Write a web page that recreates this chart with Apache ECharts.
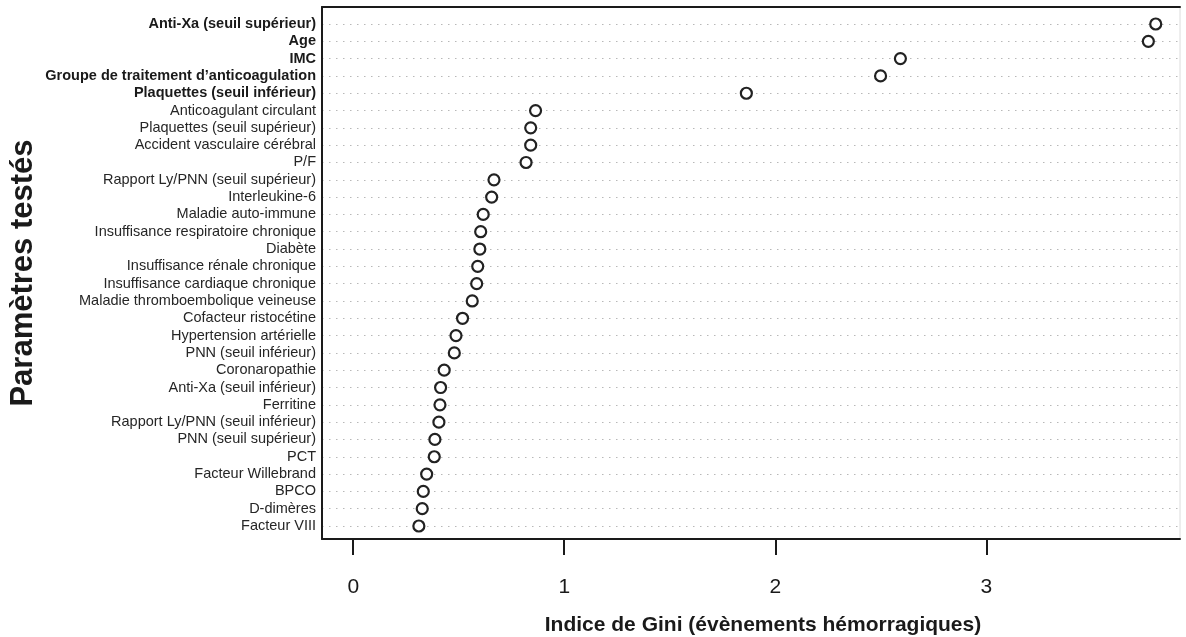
<!DOCTYPE html>
<html>
<head>
<meta charset="utf-8">
<script src="https://cdn.jsdelivr.net/npm/echarts@6/dist/echarts.min.js"></script>
<style>
  html, body { margin: 0; padding: 0; background: #fff; }
  #chart { width: 1186px; height: 637px; }
</style>
</head>
<body>
<div id="chart"></div>
<script>
// paramètres, du haut vers le bas
const PARAMS = [
    'Anti-Xa (seuil supérieur)', 'Age', 'IMC', 'Groupe de traitement d\u2019anticoagulation',
    'Plaquettes (seuil inférieur)', 'Anticoagulant circulant', 'Plaquettes (seuil supérieur)',
    'Accident vasculaire cérébral', 'P/F', 'Rapport Ly/PNN (seuil supérieur)', 'Interleukine-6',
    'Maladie auto-immune', 'Insuffisance respiratoire chronique', 'Diabète',
    'Insuffisance rénale chronique', 'Insuffisance cardiaque chronique',
    'Maladie thromboembolique veineuse', 'Cofacteur ristocétine', 'Hypertension artérielle',
    'PNN (seuil inférieur)', 'Coronaropathie', 'Anti-Xa (seuil inférieur)', 'Ferritine',
    'Rapport Ly/PNN (seuil inférieur)', 'PNN (seuil supérieur)', 'PCT', 'Facteur Willebrand',
    'BPCO', 'D-dimères', 'Facteur VIII'
];
const GINI = [
    3.803, 3.768, 2.593, 2.499, 1.863, 0.864, 0.841, 0.841, 0.819, 0.667, 0.656,
    0.616, 0.604, 0.600, 0.590, 0.585, 0.564, 0.518, 0.487, 0.479, 0.431, 0.414,
    0.411, 0.406, 0.387, 0.384, 0.348, 0.332, 0.327, 0.311
];
const BOLD_COUNT = 5;                 // les 5 premiers en gras
const X_TICKS = [0, 1, 2, 3];
const X_MIN = -0.148, X_MAX = 3.918;

const FONT = '"Liberation Sans", Arial, sans-serif';
const DARK = '#1a1a1a';

const chart = echarts.init(document.getElementById('chart'));

chart.setOption({
    backgroundColor: '#fff',
    animation: false,
    grid: [
        // cadre + axe X
        {left: 322, right: 6, top: 7, bottom: 98, outerBoundsMode: 'none', containLabel: false,
         show: true, borderColor: '#dcdcdc', borderWidth: 1},
        // zone des points
        {left: 322, right: 6, top: 24, bottom: 111, outerBoundsMode: 'none', containLabel: false}
    ],
    xAxis: [
        {
            gridIndex: 0, type: 'value', min: X_MIN, max: X_MAX,
            name: 'Indice de Gini (évènements hémorragiques)',
            nameLocation: 'middle', nameGap: 76,
            nameTextStyle: {fontFamily: FONT, fontWeight: 'bold', fontSize: 21, color: DARK, padding: [0, 0, 0, 24]},
            axisLine: {show: true, onZero: false, lineStyle: {color: DARK, width: 2}},
            axisTick: {show: true, customValues: X_TICKS, length: 16, lineStyle: {color: DARK, width: 2}},
            axisLabel: {customValues: X_TICKS, margin: 38, fontFamily: FONT, fontSize: 21, color: DARK},
            splitLine: {show: false}
        },
        {
            gridIndex: 0, type: 'value', min: X_MIN, max: X_MAX, position: 'top',
            axisLine: {show: true, onZero: false, lineStyle: {color: DARK, width: 2}},
            axisTick: {show: false}, axisLabel: {show: false}, splitLine: {show: false}
        },
        {
            gridIndex: 1, type: 'value', min: X_MIN, max: X_MAX,
            axisLine: {show: false}, axisTick: {show: false}, axisLabel: {show: false},
            splitLine: {show: false}
        }
    ],
    yAxis: [
        {
            gridIndex: 0, type: 'value', min: 0, max: 1,
            name: 'Paramètres testés', nameLocation: 'middle', nameGap: 283, nameRotate: 90,
            nameTextStyle: {fontFamily: FONT, fontWeight: 'bold', fontSize: 31, color: DARK},
            axisLine: {show: true, onZero: false, lineStyle: {color: DARK, width: 2}},
            axisTick: {show: false}, axisLabel: {show: false}, splitLine: {show: false}
        },
        {
            gridIndex: 1, type: 'category', data: PARAMS, inverse: true, boundaryGap: false,
            axisLine: {show: false}, axisTick: {show: false},
            axisLabel: {
                margin: 6,
                formatter: (v, i) => i < BOLD_COUNT ? '{b|' + v + '}' : '{n|' + v + '}',
                rich: {
                    b: {fontFamily: FONT, fontWeight: 'bold', fontSize: 14.5, color: DARK},
                    n: {fontFamily: FONT, fontSize: 14.5, color: '#262626'}
                }
            },
            splitLine: {show: true, lineStyle: {color: '#b8b8b8', width: 1, type: [1.5, 5.5]}}
        }
    ],
    series: [{
        type: 'scatter',
        xAxisIndex: 2, yAxisIndex: 1,
        data: GINI.map((v, i) => [v, PARAMS[i]]),
        symbol: 'circle',
        symbolSize: 11,
        itemStyle: {color: '#fff', borderColor: '#222', borderWidth: 2.2, opacity: 1}
    }]
});
</script>
</body>
</html>
